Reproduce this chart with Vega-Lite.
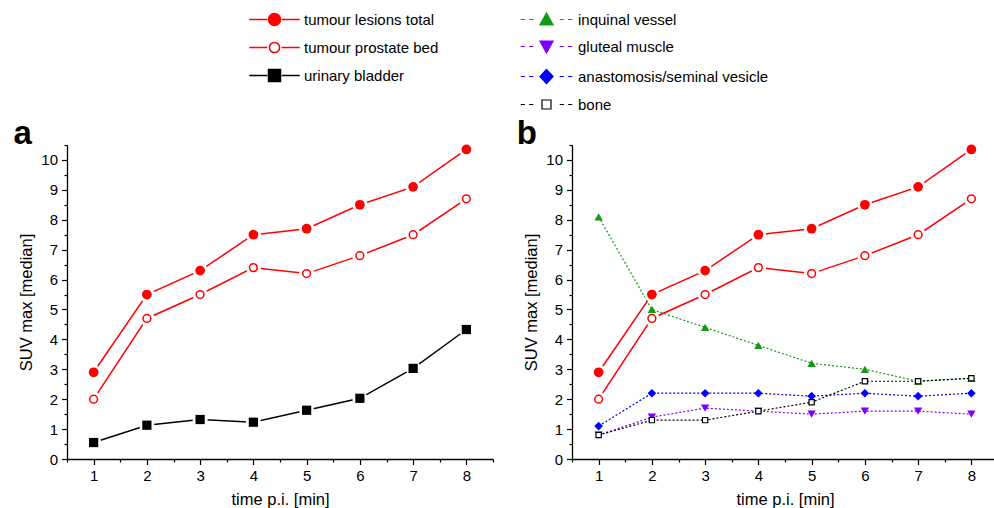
{
  "$schema": "https://vega.github.io/schema/vega-lite/v6.json",
  "padding": {"left": 13, "top": 12, "right": 0, "bottom": 0},
  "config": {
    "font": "Liberation Sans",
    "view": {"stroke": null},
    "axis": {"domainColor": "#000000", "tickColor": "#000000", "labelColor": "#000000", "titleColor": "#000000", "labelFontSize": 15, "titleFontSize": 16.5, "titleFontWeight": "normal", "grid": false, "domainWidth": 1.3, "tickWidth": 1.2, "labelOverlap": false, "labelFlush": false},
    "legend": {"labelLimit": 400}
  },
  "resolve": {"scale": {"color": "independent"}, "legend": {"color": "independent"}},
  "datasets": {
    "d": [
      {"series": "tumour lesions total", "t": 1, "v": 2.9},
      {"series": "tumour lesions total", "t": 2, "v": 5.5},
      {"series": "tumour lesions total", "t": 3, "v": 6.3},
      {"series": "tumour lesions total", "t": 4, "v": 7.5},
      {"series": "tumour lesions total", "t": 5, "v": 7.7},
      {"series": "tumour lesions total", "t": 6, "v": 8.5},
      {"series": "tumour lesions total", "t": 7, "v": 9.1},
      {"series": "tumour lesions total", "t": 8, "v": 10.35},
      {"series": "tumour prostate bed", "t": 1, "v": 2.0},
      {"series": "tumour prostate bed", "t": 2, "v": 4.7},
      {"series": "tumour prostate bed", "t": 3, "v": 5.5},
      {"series": "tumour prostate bed", "t": 4, "v": 6.4},
      {"series": "tumour prostate bed", "t": 5, "v": 6.2},
      {"series": "tumour prostate bed", "t": 6, "v": 6.8},
      {"series": "tumour prostate bed", "t": 7, "v": 7.5},
      {"series": "tumour prostate bed", "t": 8, "v": 8.7},
      {"series": "urinary bladder", "t": 1, "v": 0.55},
      {"series": "urinary bladder", "t": 2, "v": 1.13},
      {"series": "urinary bladder", "t": 3, "v": 1.32},
      {"series": "urinary bladder", "t": 4, "v": 1.23},
      {"series": "urinary bladder", "t": 5, "v": 1.63},
      {"series": "urinary bladder", "t": 6, "v": 2.03},
      {"series": "urinary bladder", "t": 7, "v": 3.03},
      {"series": "urinary bladder", "t": 8, "v": 4.33},
      {"series": "inquinal vessel", "t": 1, "v": 8.1},
      {"series": "inquinal vessel", "t": 2, "v": 5.0},
      {"series": "inquinal vessel", "t": 3, "v": 4.4},
      {"series": "inquinal vessel", "t": 4, "v": 3.8},
      {"series": "inquinal vessel", "t": 5, "v": 3.2},
      {"series": "inquinal vessel", "t": 6, "v": 3.0},
      {"series": "inquinal vessel", "t": 7, "v": 2.6},
      {"series": "inquinal vessel", "t": 8, "v": 2.7},
      {"series": "gluteal muscle", "t": 1, "v": 0.8},
      {"series": "gluteal muscle", "t": 2, "v": 1.4},
      {"series": "gluteal muscle", "t": 3, "v": 1.7},
      {"series": "gluteal muscle", "t": 4, "v": 1.6},
      {"series": "gluteal muscle", "t": 5, "v": 1.5},
      {"series": "gluteal muscle", "t": 6, "v": 1.6},
      {"series": "gluteal muscle", "t": 7, "v": 1.6},
      {"series": "gluteal muscle", "t": 8, "v": 1.5},
      {"series": "anastomosis/seminal vesicle", "t": 1, "v": 1.1},
      {"series": "anastomosis/seminal vesicle", "t": 2, "v": 2.2},
      {"series": "anastomosis/seminal vesicle", "t": 3, "v": 2.2},
      {"series": "anastomosis/seminal vesicle", "t": 4, "v": 2.2},
      {"series": "anastomosis/seminal vesicle", "t": 5, "v": 2.1},
      {"series": "anastomosis/seminal vesicle", "t": 6, "v": 2.2},
      {"series": "anastomosis/seminal vesicle", "t": 7, "v": 2.1},
      {"series": "anastomosis/seminal vesicle", "t": 8, "v": 2.2},
      {"series": "bone", "t": 1, "v": 0.8},
      {"series": "bone", "t": 2, "v": 1.3},
      {"series": "bone", "t": 3, "v": 1.3},
      {"series": "bone", "t": 4, "v": 1.6},
      {"series": "bone", "t": 5, "v": 1.9},
      {"series": "bone", "t": 6, "v": 2.6},
      {"series": "bone", "t": 7, "v": 2.6},
      {"series": "bone", "t": 8, "v": 2.7}
    ]
  },
  "spacing": 79,
  "bounds": "flush",
  "hconcat": [
    {
      "width": 426,
      "height": 314,
      "data": {"name": "d"},
      "transform": [{"filter": {"field": "series", "oneOf": ["tumour lesions total", "tumour prostate bed", "urinary bladder"]}}],
      "title": {"text": "a", "orient": "left", "anchor": "end", "frame": "group", "angle": 0, "align": "left", "baseline": "alphabetic", "offset": -13, "dy": -1, "fontSize": 33, "fontWeight": "bold", "color": "#000000"},
      "encoding": {
        "x": {"field": "t", "type": "quantitative", "scale": {"domain": [0.5, 8.5], "nice": false, "zero": false},
          "axis": {"title": "time p.i. [min]", "values": [0.5, 1, 1.5, 2, 2.5, 3, 3.5, 4, 4.5, 5, 5.5, 6, 6.5, 7, 7.5, 8, 8.5], "labelExpr": "datum.value % 1 ? '' : format(datum.value, 'd')", "tickSize": {"condition": {"test": "datum.value % 1 !== 0", "value": 3}, "value": 5.5}, "labelPadding": 4, "titlePadding": 8}},
        "y": {"field": "v", "type": "quantitative", "scale": {"domain": [0, 10.5], "nice": false},
          "axis": {"title": "SUV max [median]", "values": [0, 0.5, 1, 1.5, 2, 2.5, 3, 3.5, 4, 4.5, 5, 5.5, 6, 6.5, 7, 7.5, 8, 8.5, 9, 9.5, 10, 10.5], "labelExpr": "datum.value % 1 ? '' : format(datum.value, 'd')", "tickSize": {"condition": {"test": "datum.value % 1 !== 0", "value": 3}, "value": 5.5}, "labelPadding": 4, "titlePadding": 6}}
      },
      "layer": [
        {"mark": {"type": "line", "strokeWidth": 1.5},
         "encoding": {
           "color": {"field": "series", "type": "nominal", "scale": {"domain": ["tumour lesions total", "tumour prostate bed", "urinary bladder"], "range": ["#ff0000", "#ff0000", "#000000"]},
             "legend": {"title": null, "orient": "none", "legendX": 200, "legendY": -133, "symbolSize": 144, "symbolStrokeWidth": 1.5, "labelFontSize": 15, "labelColor": "#000000", "labelOffset": 22, "rowPadding": 10,
               "symbolType": {"expr": "datum.value === 'urinary bladder' ? 'M-4.2,0L-1.2,0M1.2,0L4.2,0M-1,-1L1,-1L1,1L-1,1Z' : datum.value === 'tumour prostate bed' ? 'M-4.2,0L-1.2,0M1.2,0L4.2,0M-0.85,0A0.85,0.85,0,1,1,0.85,0A0.85,0.85,0,1,1,-0.85,0Z' : 'M-4.2,0L-1.2,0M1.2,0L4.2,0M-1,0A1,1,0,1,1,1,0A1,1,0,1,1,-1,0Z'"},
               "symbolFillColor": {"expr": "datum.value === 'urinary bladder' ? '#000000' : datum.value === 'tumour prostate bed' ? '#ffffff' : '#ff0000'"}}}
         }},
        {"mark": {"type": "point", "shape": "circle", "filled": true, "color": "#ffffff", "size": 230, "opacity": 1, "strokeWidth": 0}},
        {"transform": [{"filter": {"field": "series", "equal": "tumour lesions total"}}],
         "mark": {"type": "point", "shape": "circle", "filled": true, "color": "#ff0000", "size": 95, "opacity": 1}},
        {"transform": [{"filter": {"field": "series", "equal": "urinary bladder"}}],
         "mark": {"type": "point", "shape": "square", "filled": true, "color": "#000000", "size": 85, "opacity": 1}},
        {"transform": [{"filter": {"field": "series", "equal": "tumour prostate bed"}}],
         "mark": {"type": "point", "shape": "circle", "fill": "#ffffff", "stroke": "#ff0000", "strokeWidth": 1.5, "size": 60, "opacity": 1}}
      ]
    },
    {
      "width": 426,
      "height": 314,
      "data": {"name": "d"},
      "transform": [{"filter": {"field": "series", "oneOf": ["tumour lesions total", "tumour prostate bed", "inquinal vessel", "gluteal muscle", "anastomosis/seminal vesicle", "bone"]}}],
      "title": {"text": "b", "orient": "left", "anchor": "end", "frame": "group", "angle": 0, "align": "left", "baseline": "alphabetic", "offset": -13, "dy": -1, "fontSize": 33, "fontWeight": "bold", "color": "#000000"},
      "encoding": {
        "x": {"field": "t", "type": "quantitative", "scale": {"domain": [0.5, 8.5], "nice": false, "zero": false},
          "axis": {"title": "time p.i. [min]", "values": [0.5, 1, 1.5, 2, 2.5, 3, 3.5, 4, 4.5, 5, 5.5, 6, 6.5, 7, 7.5, 8, 8.5], "labelExpr": "datum.value % 1 ? '' : format(datum.value, 'd')", "tickSize": {"condition": {"test": "datum.value % 1 !== 0", "value": 3}, "value": 5.5}, "labelPadding": 4, "titlePadding": 8}},
        "y": {"field": "v", "type": "quantitative", "scale": {"domain": [0, 10.5], "nice": false},
          "axis": {"title": "SUV max [median]", "values": [0, 0.5, 1, 1.5, 2, 2.5, 3, 3.5, 4, 4.5, 5, 5.5, 6, 6.5, 7, 7.5, 8, 8.5, 9, 9.5, 10, 10.5], "labelExpr": "datum.value % 1 ? '' : format(datum.value, 'd')", "tickSize": {"condition": {"test": "datum.value % 1 !== 0", "value": 3}, "value": 5.5}, "labelPadding": 4, "titlePadding": 6}}
      },
      "layer": [
        {"transform": [{"filter": {"field": "series", "oneOf": ["inquinal vessel", "gluteal muscle", "anastomosis/seminal vesicle", "bone"]}}],
         "mark": {"type": "line", "strokeWidth": 1.2, "strokeDash": [2, 2]},
         "encoding": {
           "color": {"field": "series", "type": "nominal", "scale": {"domain": ["inquinal vessel", "gluteal muscle", "anastomosis/seminal vesicle", "bone"], "range": ["#139a13", "#8000ff", "#0000ff", "#000000"]},
             "legend": {"title": null, "orient": "none", "legendX": -33, "legendY": -133, "symbolSize": 144, "symbolStrokeWidth": 1.2, "labelFontSize": 15, "labelColor": "#000000", "labelOffset": 24, "rowPadding": 10,
               "symbolType": {"expr": "datum.value === 'inquinal vessel' ? 'M-4.3,0L-3.6,0M-2.9,0L-2.2,0M2.2,0L2.9,0M3.6,0L4.3,0M-1.1,0.9L0,-1.1L1.1,0.9Z' : datum.value === 'gluteal muscle' ? 'M-4.3,0L-3.6,0M-2.9,0L-2.2,0M2.2,0L2.9,0M3.6,0L4.3,0M-1.1,-0.9L1.1,-0.9L0,1.1Z' : datum.value === 'anastomosis/seminal vesicle' ? 'M-4.3,0L-3.6,0M-2.9,0L-2.2,0M2.2,0L2.9,0M3.6,0L4.3,0M0,-1.2L1.1,0L0,1.2L-1.1,0Z' : 'M-4.3,0L-3.6,0M-2.9,0L-2.2,0M2.2,0L2.9,0M3.6,0L4.3,0M-0.75,-0.75L0.75,-0.75L0.75,0.75L-0.75,0.75Z'"},
               "symbolFillColor": {"expr": "datum.value === 'inquinal vessel' ? '#139a13' : datum.value === 'gluteal muscle' ? '#8000ff' : datum.value === 'anastomosis/seminal vesicle' ? '#0000ff' : '#ffffff'"}}}
         }},
        {"transform": [{"filter": {"field": "series", "oneOf": ["tumour lesions total", "tumour prostate bed"]}}],
         "mark": {"type": "line", "color": "#ff0000", "strokeWidth": 1.5},
         "encoding": {"detail": {"field": "series", "type": "nominal"}}},
        {"transform": [{"filter": {"field": "series", "oneOf": ["tumour lesions total", "tumour prostate bed"]}}],
         "mark": {"type": "point", "shape": "circle", "filled": true, "color": "#ffffff", "size": 230, "opacity": 1, "strokeWidth": 0}},
        {"transform": [{"filter": {"field": "series", "equal": "tumour lesions total"}}],
         "mark": {"type": "point", "shape": "circle", "filled": true, "color": "#ff0000", "size": 95, "opacity": 1}},
        {"transform": [{"filter": {"field": "series", "equal": "tumour prostate bed"}}],
         "mark": {"type": "point", "shape": "circle", "fill": "#ffffff", "stroke": "#ff0000", "strokeWidth": 1.5, "size": 60, "opacity": 1}},
        {"transform": [{"filter": {"field": "series", "equal": "gluteal muscle"}}],
         "mark": {"type": "point", "shape": "triangle-down", "filled": true, "color": "#8000ff", "size": 70, "opacity": 1}},
        {"transform": [{"filter": {"field": "series", "equal": "anastomosis/seminal vesicle"}}],
         "mark": {"type": "point", "shape": "diamond", "filled": true, "color": "#0000ff", "size": 75, "opacity": 1}},
        {"transform": [{"filter": {"field": "series", "equal": "inquinal vessel"}}],
         "mark": {"type": "point", "shape": "triangle-up", "filled": true, "color": "#139a13", "size": 70, "opacity": 1}},
        {"transform": [{"filter": {"field": "series", "equal": "bone"}}],
         "mark": {"type": "point", "shape": "square", "fill": "#ffffff", "stroke": "#000000", "strokeWidth": 1.2, "size": 28, "opacity": 1}}
      ]
    }
  ]
}
